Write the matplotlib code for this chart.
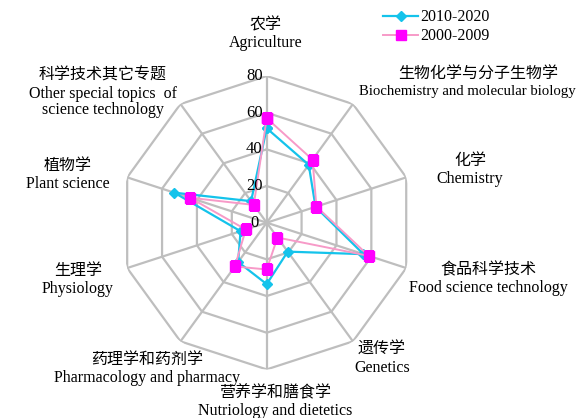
import numpy as np
import matplotlib
matplotlib.use('Agg')
import matplotlib.pyplot as plt

plt.rcParams['font.family'] = ['Liberation Serif', 'Noto Sans CJK SC']

# categories, clockwise from the top
cats_cn = ['农学', '生物化学与分子生物学', '化学', '食品科学技术', '遗传学',
           '营养学和膳食学', '药理学和药剂学', '生理学', '植物学', '科学技术其它专题']
cats_en = ['Agriculture', 'Biochemistry and molecular biology', 'Chemistry',
           'Food science technology', 'Genetics', 'Nutriology and dietetics',
           'Pharmacology and pharmacy', 'Physiology', 'Plant science',
           'Other special topics  of\nscience technology']

vals_2010 = [51.5, 39, 28, 55.5, 19.5, 33.5, 26.5, 15, 53, 14.5]
vals_2000 = [57, 42.5, 28.5, 58.5, 10, 25.5, 29.5, 12, 44, 12]
ticks = [0, 20, 40, 60, 80]

W, H = 579, 418
fig = plt.figure(figsize=(W / 100, H / 100), dpi=100)
cx, cy, R = 266.7, 222.7, 146.7
ax = fig.add_axes([(cx - R) / W, (H - cy - R) / H, 2 * R / W, 2 * R / H], projection='polar')
ax.set_theta_zero_location('N')
ax.set_theta_direction(-1)
ax.set_ylim(0, 80)
ax.grid(False)
ax.set_xticks([])
ax.set_yticks([])
ax.spines['polar'].set_visible(False)
ax.patch.set_alpha(0)

n = len(cats_cn)
ang = np.arange(n) * 2 * np.pi / n
ang_c = np.append(ang, ang[0])

grid_col = '#BEBEBE'
for t in ticks[1:]:
    ax.plot(ang_c, [t] * (n + 1), color=grid_col, lw=1.6, zorder=1)
for a in ang:
    ax.plot([a, a], [0, 80], color=grid_col, lw=1.6, zorder=1)

for t in ticks:
    ax.annotate(str(t), xy=(0, t), xytext=(-3 if t else -6, 0), textcoords='offset points',
                ha='right', va='center', fontsize=12, zorder=5)

l1, = ax.plot(ang_c, vals_2010 + vals_2010[:1], color='#14C3EB', lw=1.6,
              marker='D', ms=5, mfc='#14C3EB', mec='#14C3EB', zorder=3, label='2010-2020')
l2, = ax.plot(ang_c, vals_2000 + vals_2000[:1], color='#F79AC8', lw=1.4,
              marker='s', ms=7, mfc='#FF00FF', mec='#FF00FF', zorder=4, label='2000-2009')

# category labels: pixel centre of the Chinese line, English line below it
label_pos = [(266, 25), (478, 75), (470, 161), (488, 270), (382, 350),
             (275, 393), (147, 360), (78, 271), (68, 166), (103, 76)]
for i, (cn, en, (x, y)) in enumerate(zip(cats_cn, cats_en, label_pos)):
    fig.text(x / W, 1 - y / H, cn, ha='center', va='center', fontsize=11.5)
    if i == 1:
        # long label sits against the right edge
        fig.text(576 / W, 1 - (y + 10) / H, en, ha='right', va='top', fontsize=10.6)
    else:
        fig.text(x / W, 1 - (y + 10) / H, en, ha='center', va='top', fontsize=11.5,
                 linespacing=1.0)

fig.legend(handles=[l1, l2], loc='upper left', bbox_to_anchor=(372 / W, 1 + 2 / H),
           frameon=False, fontsize=11.5, handlelength=2.2, handletextpad=0.15,
           labelspacing=0.2, borderpad=0.2)

fig.savefig('out.png', dpi=100)
